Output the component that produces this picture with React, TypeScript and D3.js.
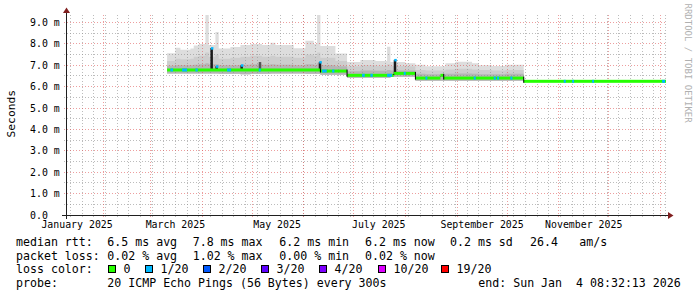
import React from "react";
import * as d3 from "d3";

const START_TIME = "2025-01-09T08:32:13Z";
const END_TIME = "2026-01-04T08:32:13Z";

// smoke slots (start dates) and band tops in ms
const smokeDates = [
  "2025-03-11", "2025-03-16", "2025-03-19", "2025-03-25", "2025-03-27", "2025-03-30",
  "2025-04-03", "2025-04-05", "2025-04-09", "2025-04-11", "2025-04-18", "2025-04-24",
  "2025-04-30", "2025-05-07", "2025-05-12", "2025-05-15", "2025-05-26", "2025-06-02",
  "2025-06-07", "2025-06-09", "2025-06-11", "2025-06-20", "2025-06-27", "2025-07-05",
  "2025-07-14", "2025-07-21", "2025-07-23", "2025-08-01", "2025-08-07", "2025-08-13",
  "2025-08-25", "2025-08-31", "2025-09-10", "2025-09-14", "2025-09-22", "2025-09-30",
];
const smokeEnd = "2025-10-11";
const smokeTop = [
  7.56, 7.82, 7.72, 7.78, 7.92, 8.0,
  9.35, 7.95, 8.55, 7.78, 7.85, 7.95,
  8.0, 7.95, 8.05, 7.95, 7.8, 8.15,
  8.0, 9.35, 7.9, 7.55, 7.15, 7.25,
  7.2, 7.87, 7.15, 7.09, 7.02, 6.95,
  7.1, 7.17, 7.09, 7.0, 6.96, 7.03,
];
const smokeMid = [
  7.2, 7.3, 7.28, 7.3, 7.4, 7.45,
  7.6, 7.4, 7.5, 7.3, 7.35, 7.4,
  7.45, 7.4, 7.45, 7.4, 7.35, 7.5,
  7.45, 7.6, 7.35, 7.2, 6.95, 7.0,
  6.98, 7.05, 6.97, 6.95, 6.78, 6.76,
  6.8, 6.84, 6.8, 6.78, 6.76, 6.78,
];
const smokeDark = [
  6.98, 7.0, 7.0, 7.0, 7.02, 7.05,
  7.1, 7.05, 7.05, 7.0, 7.0, 7.02,
  7.05, 7.03, 7.05, 7.02, 7.0, 7.05,
  7.03, 7.1, 7.0, 6.95, 6.72, 6.75,
  6.74, 6.78, 6.76, 6.76, 6.6, 6.58,
  6.6, 6.62, 6.6, 6.58, 6.58, 6.6,
];
const smokeLow = [
  6.62, 6.62, 6.62, 6.62, 6.62, 6.62,
  6.62, 6.62, 6.62, 6.6, 6.6, 6.58,
  6.6, 6.6, 6.62, 6.62, 6.62, 6.6,
  6.6, 6.6, 6.56, 6.56, 6.42, 6.42,
  6.42, 6.42, 6.46, 6.46, 6.28, 6.28,
  6.28, 6.28, 6.28, 6.28, 6.28, 6.28,
];

// median rtt segments
const medianDates = [
  "2025-03-11", "2025-06-11", "2025-06-27", "2025-07-25", "2025-08-07",
  "2025-08-22", "2025-08-24", "2025-10-11",
];
const medianVals = [6.78, 6.73, 6.53, 6.62, 6.4, 6.53, 6.4, 6.25];

// days with packet loss (1/20)
const lossDates = [
  "2025-03-13", "2025-03-20", "2025-03-28", "2025-04-16", "2025-05-05",
  "2025-06-12", "2025-06-18", "2025-07-06", "2025-07-11", "2025-07-21",
  "2025-07-31", "2025-08-13", "2025-09-11", "2025-09-23", "2025-09-25",
  "2025-10-03", "2025-11-04", "2025-11-09", "2025-11-21", "2026-01-02",
];
const lossDays = [1.6, 3, 1.4, 2.4, 1.2, 2.8, 1.4, 1.6, 1.4, 3, 1.2, 1.2, 1.2, 1.2, 1.2, 1.2, 1.2, 1.2, 1.2, 1.8];
const lossLevel = [1, 1, 1, 1, 1, 1, 1, 1, 1, 1, 1, 1, 1, 1, 1, 1, 1, 1, 1, 1];

// median spikes
const spikeDates = ["2025-04-06", "2025-04-09", "2025-04-24", "2025-05-05", "2025-06-10", "2025-07-25"];
const spikeVals = [7.8, 6.95, 7.0, 7.15, 7.15, 7.25];
const spikeLoss = [1, 1, 1, -1, 1, 1];

const yTicks = [0, 1, 2, 3, 4, 5, 6, 7, 8, 9];
const monthLabels = ["January 2025", "March 2025", "May 2025", "July 2025", "September 2025", "November 2025"];
const monthLabelDates = ["2025-01-16", "2025-03-16", "2025-05-16", "2025-07-16", "2025-09-16", "2025-11-16"];

const lossNames = ["0", "1/20", "2/20", "3/20", "4/20", "10/20", "19/20"];
const lossColors = ["#26ff00", "#00b8ff", "#0059ff", "#5e00ff", "#7e00ff", "#dd00ff", "#ff0000"];

const rttLabel = "median rtt:";
const rttItems = ["6.5 ms avg", "7.8 ms max", "6.2 ms min", "6.2 ms now", "0.2 ms sd", "26.4", "am/s"];
const lossLabel = "packet loss:";
const lossItems = ["0.02 % avg", "1.02 % max", "0.00 % min", "0.02 % now"];
const probeLabel = "probe:";
const probeText = "20 ICMP Echo Pings (56 Bytes) every 300s";
const endText = "end: Sun Jan  4 08:32:13 2026";

const pd = (s: string) => new Date(s + "T00:00:00Z");

export default function App() {
  const W = 697, H = 297;
  const X0 = 66, X1 = 666, YB = 215, YT = 15;
  const t0 = new Date(START_TIME), t1 = new Date(END_TIME);
  const x = d3.scaleUtc().domain([t0, t1]).range([X0, X1]);
  const y = d3.scaleLinear().domain([0, 9.35]).range([YB, YT]);
  const mono = "'DejaVu Sans Mono', monospace";

  const medAt = (t: Date) => {
    let v = medianVals[0];
    medianDates.forEach((d, i) => { if (pd(d) <= t) v = medianVals[i]; });
    return v;
  };

  const pts = smokeDates.map((d, i) => ({ t: pd(d), i }));
  pts.push({ t: pd(smokeEnd), i: smokeDates.length - 1 });
  const mkArea = (arr: number[]) =>
    d3.area<{ t: Date; i: number }>()
      .x((p) => x(p.t))
      .y0((p) => y(smokeLow[p.i]))
      .y1((p) => y(arr[p.i]))
      .curve(d3.curveStepAfter)(pts) || "";

  const weeks = d3.utcSunday.range(t0, t1);
  const months = d3.utcMonth.range(t0, t1);
  const snap = (v: number) => Math.floor(v) + 0.5;

  const minorY: number[] = [];
  for (let v = 0.5; v < 9.35; v += 1) minorY.push(v);
  const majorY = yTicks.filter((v) => v > 0);

  const gridMinor = "rgba(143,143,143,0.6)";
  const gridMajor = "rgba(222,79,79,0.55)";

  const medSegs = medianDates.map((d, i) => {
    const xa = x(pd(d));
    const xb = i < medianDates.length - 1 ? x(pd(medianDates[i + 1])) : X1;
    return { xa, xb, v: medianVals[i], next: i < medianDates.length - 1 ? medianVals[i + 1] : null };
  });

  const legendBoxX = [108.5, 145.5, 203.5, 261.5, 319.5, 378.5, 441.5];
  const rttX = [107.3, 192.7, 279.3, 365, 450, 530, 579.3];

  return (
    <svg width={W} height={H} viewBox={`0 0 ${W} ${H}`} style={{ position: "absolute", left: 0, top: 0, background: "#fff" }}>
      <rect x={0} y={0} width={W} height={H} fill="#fff" />
      {/* smoke */}
      <path d={mkArea(smokeTop)} fill="#dddddd" />
      <path d={mkArea(smokeMid)} fill="#cdcdcd" />
      <path d={mkArea(smokeDark)} fill="#b5b5b5" />

      {/* grid */}
      <g shapeRendering="crispEdges">
        {weeks.map((t, i) => (
          <line key={"w" + i} x1={snap(x(t))} x2={snap(x(t))} y1={YT} y2={YB + 2} stroke={gridMinor} strokeDasharray="1,2" />
        ))}
        {minorY.map((v, i) => (
          <line key={"hy" + i} x1={X0 - 2} x2={X1} y1={snap(y(v))} y2={snap(y(v))} stroke={gridMinor} strokeDasharray="1,2" />
        ))}
        {months.map((t, i) => (
          <line key={"m" + i} x1={snap(x(t))} x2={snap(x(t))} y1={YT} y2={YB + 2} stroke={gridMajor} strokeDasharray="1,2" />
        ))}
        {majorY.map((v, i) => (
          <line key={"my" + i} x1={X0 - 2} x2={X1} y1={snap(y(v))} y2={snap(y(v))} stroke={gridMajor} strokeDasharray="1,2" />
        ))}
      </g>

      {/* spikes */}
      {spikeDates.map((d, i) => {
        const xs = x(pd(d));
        const base = y(medAt(pd(d)));
        const top = y(spikeVals[i]);
        return (
          <rect key={"s" + i} x={xs} y={top} width={2.5} height={base - top} fill={spikeLoss[i] < 0 ? "#555" : "#1a1a1a"} />
        );
      })}

      {/* median */}
      {medSegs.map((s, i) => (
        <rect key={"md" + i} x={s.xa} y={y(s.v) - 1.5} width={s.xb - s.xa} height={3} fill={lossColors[0]} />
      ))}
      {medSegs.map((s, i) =>
        s.next === null ? null : (
          <line key={"mt" + i} x1={s.xb} x2={s.xb} y1={y(s.v) - 1.5} y2={y(s.next) + 1.5} stroke="#000" strokeWidth={1} />
        )
      )}
      {lossDates.map((d, i) => {
        const t = pd(d);
        const xa = x(t);
        const xb = Math.min(X1, x(new Date(t.getTime() + lossDays[i] * 86400000)));
        return <rect key={"l" + i} x={xa} y={y(medAt(t)) - 1.5} width={xb - xa} height={3} fill={lossColors[lossLevel[i]]} />;
      })}
      {spikeDates.map((d, i) =>
        spikeLoss[i] < 0 ? null : (
          <rect key={"sc" + i} x={x(pd(d)) + 0.5} y={y(spikeVals[i]) - 1} width={2.5} height={2.5} fill={lossColors[spikeLoss[i]]} />
        )
      )}

      {/* axes */}
      <line x1={X0 - 4} x2={X1 + 4} y1={YB + 0.5} y2={YB + 0.5} stroke="#1f1f1f" strokeWidth={1} />
      <line x1={X0 + 0.5} x2={X0 + 0.5} y1={YB + 4} y2={YT - 4} stroke="#1f1f1f" strokeWidth={1} />
      <polygon points={`${X1 + 2},${YB - 3} ${X1 + 2},${YB + 4} ${X1 + 7.5},${YB + 0.5}`} fill="#801f1f" />
      <polygon points={`${X0 - 3},${YT - 2} ${X0 + 4},${YT - 2} ${X0 + 0.5},${YT - 7.5}`} fill="#801f1f" />

      {/* y labels */}
      {yTicks.map((v) => (
        <text key={"yl" + v} x={30} y={y(v) + 3.6} fontFamily={mono} fontSize={9.9} fill="#000">
          {v === 0 ? "0.0" : `${v.toFixed(1)} m`}
        </text>
      ))}
      {/* x labels */}
      {monthLabels.map((m, i) => (
        <text key={"xl" + i} x={x(pd(monthLabelDates[i]))} y={228} textAnchor="middle" fontFamily={mono} fontSize={9.9} fill="#000">
          {m}
        </text>
      ))}

      <text transform="translate(15,113.7) rotate(-90)" textAnchor="middle" fontFamily={mono} fontSize={11.3} fill="#000">
        Seconds
      </text>
      <text transform="translate(685,3.5) rotate(90)" fontFamily={mono} fontSize={9} fill="#b0b0b0">
        RRDTOOL / TOBI OETIKER
      </text>

      {/* legend */}
      <g fontFamily={mono} fontSize={11.6} fill="#000" style={{ whiteSpace: "pre" }}>
        <text x={16} y={246}>{rttLabel}</text>
        {rttItems.map((s, i) => (
          <text key={"r" + i} x={rttX[i]} y={246}>{s}</text>
        ))}
        <text x={16} y={259.5}>{lossLabel}</text>
        {lossItems.map((s, i) => (
          <text key={"p" + i} x={rttX[i]} y={259.5}>{s}</text>
        ))}
        <text x={16} y={273.3}>loss color:</text>
        {lossNames.map((s, i) => (
          <g key={"lc" + i}>
            <rect x={legendBoxX[i]} y={265.5} width={7} height={7} fill={lossColors[i]} stroke="#000" strokeWidth={1} />
            <text x={legendBoxX[i] + 15} y={273.3}>{s}</text>
          </g>
        ))}
        <text x={16} y={287}>{probeLabel}</text>
        <text x={107.3} y={287}>{probeText}</text>
        <text x={478.3} y={287} xmlSpace="preserve">{endText}</text>
      </g>
    </svg>
  );
}
